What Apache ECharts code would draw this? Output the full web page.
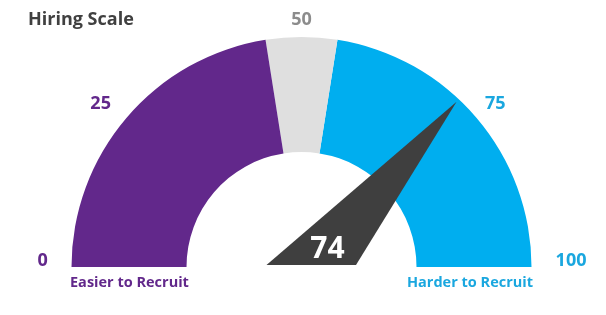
<!DOCTYPE html>
<html>
<head>
<meta charset="utf-8">
<script src="https://cdn.jsdelivr.net/npm/echarts@6/dist/echarts.min.js"></script>
<style>
  html, body { margin: 0; padding: 0; background: #ffffff; }
  #chart { width: 606px; height: 315px; }
</style>
</head>
<body>
<div id="chart"></div>
<script>
// ---- data ----
var chartTitle = 'Hiring Scale';
var scaleMin = 0;
var scaleMax = 100;
var tickLabels = [0, 25, 50, 75, 100];
var bandNames = ['Easier', 'Neutral', 'Harder'];
var bandEnds = [45, 55, 100];
var needleValue = 74;
var endLabels = ['Easier to Recruit', 'Harder to Recruit'];

// ---- styles ----
var PURPLE = '#62288b';
var GREY = '#dfdfdf';
var BLUE = '#00aeef';
var NEEDLE = '#3f3f3f';
var FONT = '"Open Sans", "Noto Sans", sans-serif';
var bandColors = [PURPLE, GREY, BLUE];
var CX = 301.5, CY = 267, R = 230, BAND_W = 115;

var chart = echarts.init(document.getElementById('chart'), null, { renderer: 'canvas' });

var stops = bandEnds.map(function (e, i) {
  return [(e - scaleMin) / (scaleMax - scaleMin), bandColors[i]];
});

var labelRich = {
  v0:   { color: PURPLE,    fontSize: 18, fontWeight: 'bold', fontFamily: FONT, padding: [0, 0, 12, 36] },
  v25:  { color: PURPLE,    fontSize: 18, fontWeight: 'bold', fontFamily: FONT, padding: [98, 0, 0, 1] },
  v50:  { color: '#8c8c8c', fontSize: 18, fontWeight: 'bold', fontFamily: FONT, padding: [44, 0, 0, 0] },
  v75:  { color: '#1aa7df', fontSize: 18, fontWeight: 'bold', fontFamily: FONT, padding: [98, 8, 0, 0] },
  v100: { color: '#1aa7df', fontSize: 18, fontWeight: 'bold', fontFamily: FONT, padding: [0, 15, 12, 0] }
};

var option = {
  backgroundColor: '#ffffff',
  animation: false,
  title: [
    { text: chartTitle, left: 28, top: 11, padding: 0,
      textStyle: { fontFamily: FONT, fontWeight: 'bold', fontSize: 18, color: '#404040' } },
    { text: endLabels[0], left: 70, top: 275, padding: 0,
      textStyle: { fontFamily: FONT, fontWeight: 'bold', fontSize: 14.5, color: PURPLE } },
    { text: endLabels[1], right: 73, top: 275, padding: 0,
      textStyle: { fontFamily: FONT, fontWeight: 'bold', fontSize: 14.5, color: '#1aa7df' } }
  ],
  polar: { center: [CX, CY], radius: R },
  angleAxis: { type: 'value', min: scaleMin, max: scaleMin + 2 * (scaleMax - scaleMin), startAngle: 180, clockwise: true, show: false },
  radiusAxis: { type: 'value', min: 0, max: 1, show: false },
  series: [
    {
      type: 'gauge',
      center: [CX, CY],
      radius: R,
      startAngle: 180,
      endAngle: 0,
      min: scaleMin,
      max: scaleMax,
      splitNumber: tickLabels.length - 1,
      axisLine: { show: true, lineStyle: { width: BAND_W, color: stops } },
      splitLine: { show: false, length: 0, distance: 0 },
      axisTick: { show: false },
      axisLabel: {
        show: true,
        distance: -70,
        formatter: function (v) {
          var k = Math.round(v);
          return tickLabels.indexOf(k) >= 0 ? '{v' + k + '|' + k + '}' : '';
        },
        rich: labelRich
      },
      pointer: { show: false },
      anchor: { show: false },
      title: { show: false },
      detail: { show: false },
      data: [{ value: needleValue, name: bandNames[2] }],
      z: 1
    },
    {
      type: 'custom',
      coordinateSystem: 'polar',
      data: [[needleValue]],
      encode: { angle: 0 },
      z: 5,
      renderItem: function (params, api) {
        var v = api.value(0);
        var c = api.coord([0, 0]);
        var tip = api.coord([0.985, v]);
        var pts = [[c[0] - 35, c[1] - 2], tip, [c[0] + 54.5, c[1] - 2]];
        return {
          type: 'group',
          children: [
            { type: 'polygon', shape: { points: pts }, style: { fill: NEEDLE } },
            { type: 'text', x: c[0] + 26, y: c[1] - 18,
              style: { text: String(v), fill: '#ffffff', font: 'bold 30px ' + FONT, align: 'center', verticalAlign: 'middle' } }
          ]
        };
      }
    }
  ]
};
chart.setOption(option);
</script>
</body>
</html>
